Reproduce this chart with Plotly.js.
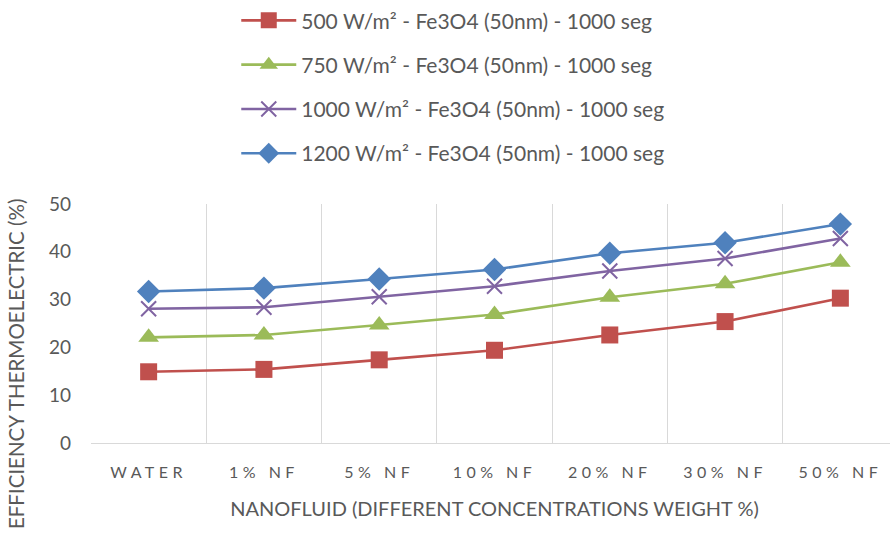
<!DOCTYPE html>
<html>
<head>
<meta charset="utf-8">
<script src="https://cdn.plot.ly/plotly-3.0.1.min.js"></script>
<style>
  html, body { margin: 0; padding: 0; overflow: hidden; background: #fff; }
  #chart { width: 900px; height: 537px; }
  .xtick text { letter-spacing: 4.5px; }
</style>
</head>
<body>
<div id="chart"></div>
<script>
// Nanofluid concentrations on the category axis
const categories = ['WATER', '1% NF', '5% NF', '10% NF', '20% NF', '30% NF', '50% NF'];

// Thermoelectric efficiency (%) per irradiance level
const eff500  = [14.9, 15.4, 17.4, 19.4, 22.6, 25.4, 30.3];
const eff750  = [22.1, 22.6, 24.7, 26.9, 30.5, 33.3, 37.8];
const eff1000 = [28.1, 28.4, 30.6, 32.8, 36.0, 38.6, 42.8];
const eff1200 = [31.7, 32.4, 34.3, 36.3, 39.7, 41.9, 45.8];

const seriesNames = [
  '500 W/m² - Fe3O4 (50nm) - 1000 seg',
  '750 W/m² - Fe3O4 (50nm) - 1000 seg',
  '1000 W/m² - Fe3O4 (50nm) - 1000 seg',
  '1200 W/m² - Fe3O4 (50nm) - 1000 seg'
];

const textColor = '#595959';
const font = 'Lato, "Open Sans", sans-serif';

function series(name, values, color, symbol, size, group) {
  const open = symbol.indexOf('open') >= 0;
  return {
    type: 'scatter', mode: 'lines+markers', name: name,
    x: categories, y: values, legendgroup: group,
    line: { color: color, width: 2.6 },
    marker: {
      symbol: symbol, size: size, color: color,
      line: { color: color, width: open ? 2 : 0 }
    },
    hoverinfo: 'x+y'
  };
}

const traces = [
  series(seriesNames[0], eff500,  '#C0504D', 'square',      17, 'g1'),
  series(seriesNames[1], eff750,  '#9BBB59', 'triangle-up', 18, 'g2'),
  series(seriesNames[2], eff1000, '#8064A2', 'x-thin-open', 15, 'g3'),
  series(seriesNames[3], eff1200, '#4F81BD', 'diamond',     18, 'g4')
];

const layout = {
  width: 900, height: 537,
  margin: { l: 91, r: 2, t: 203, b: 94 },
  paper_bgcolor: '#ffffff', plot_bgcolor: '#ffffff',
  font: { family: font, color: textColor, size: 16 },
  showlegend: true,
  legend: {
    x: 0.18, xanchor: 'left', y: 1.845, yanchor: 'top',
    orientation: 'v', tracegroupgap: 14, itemwidth: 55,
    font: { family: font, size: 21, color: textColor },
    bgcolor: 'rgba(0,0,0,0)'
  },
  xaxis: {
    type: 'category', range: [-0.5, 6.5],
    tickson: 'boundaries', ticks: '',
    showgrid: true, gridcolor: '#D9D9D9', gridwidth: 1,
    showline: true, linecolor: '#D9D9D9', linewidth: 1,
    tickfont: { family: font, size: 16, color: textColor },
    ticklabelstandoff: 15,
    title: {
      text: 'NANOFLUID (DIFFERENT CONCENTRATIONS WEIGHT %)',
      font: { family: font, size: 20, color: textColor },
      standoff: 21
    },
    zeroline: false, fixedrange: true
  },
  yaxis: {
    range: [0, 50], dtick: 10, ticks: '',
    showgrid: false, zeroline: false, showline: false,
    tickfont: { family: font, size: 19, color: textColor },
    ticklabelstandoff: 19,
    fixedrange: true
  },
  annotations: [{
    text: 'EFFICIENCY THERMOELECTRIC (%)',
    xref: 'paper', yref: 'paper',
    x: -0.093, y: 0.33, xanchor: 'center', yanchor: 'middle',
    textangle: -90, showarrow: false,
    font: { family: font, size: 20.5, color: textColor }
  }]
};

Plotly.newPlot('chart', traces, layout, { displayModeBar: false, staticPlot: true });
</script>
</body>
</html>
